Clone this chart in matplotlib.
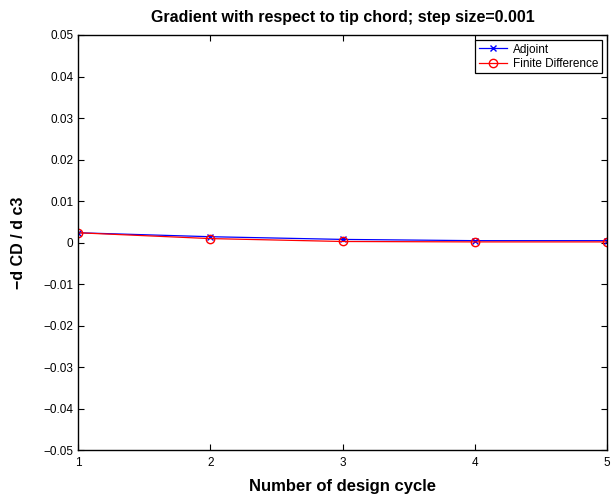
import matplotlib
matplotlib.use("Agg")
import matplotlib.pyplot as plt

plt.rcParams['font.family'] = ['Liberation Sans', 'DejaVu Sans']

# design cycles and gradient values
cycles = [1, 2, 3, 4, 5]
adjoint = [0.0024, 0.00145, 0.0008, 0.0005, 0.0005]
finite_diff = [0.0024, 0.0010, 0.0003, 0.0002, 0.0002]

yticks = [-0.05, -0.04, -0.03, -0.02, -0.01, 0, 0.01, 0.02, 0.03, 0.04, 0.05]
ytick_labels = ["\u22120.05", "\u22120.04", "\u22120.03", "\u22120.02", "\u22120.01", "0",
                "0.01", "0.02", "0.03", "0.04", "0.05"]

fig = plt.figure(figsize=(6.11, 4.97), dpi=100)
ax = fig.add_axes([0.1277, 0.0936, 0.8658, 0.836])

ax.plot(cycles, adjoint, color="blue", marker="x", markersize=5, linewidth=0.9, label="Adjoint")
ax.plot(cycles, finite_diff, color="red", marker="o", markersize=6, markerfacecolor="none",
        linewidth=0.9, label="Finite Difference")

ax.set_xlim(1, 5)
ax.set_ylim(-0.05, 0.05)
ax.set_xticks(cycles)
ax.set_yticks(yticks)
ax.set_yticklabels(ytick_labels)
ax.tick_params(direction="in", top=True, right=True, labelsize=8.5, length=4)
ax.tick_params(axis="x", pad=5)
for s in ax.spines.values():
    s.set_linewidth(1.0)

ax.set_title("Gradient with respect to tip chord; step size=0.001", fontsize=11.5,
             fontweight="bold", pad=9)
ax.set_xlabel("Number of design cycle", fontsize=12, fontweight="bold", labelpad=7)
ax.set_ylabel("\u2212d CD / d c3", fontsize=11.5, fontweight="bold", labelpad=12)

leg = ax.legend(loc="upper right", bbox_to_anchor=(0.9905, 0.988), borderaxespad=0,
                fontsize=8.5, fancybox=False, framealpha=1, edgecolor="black",
                handlelength=2.4, borderpad=0.3, labelspacing=0.2, handletextpad=0.5)
leg.get_frame().set_linewidth(0.9)

fig.savefig("out.png", dpi=100)
